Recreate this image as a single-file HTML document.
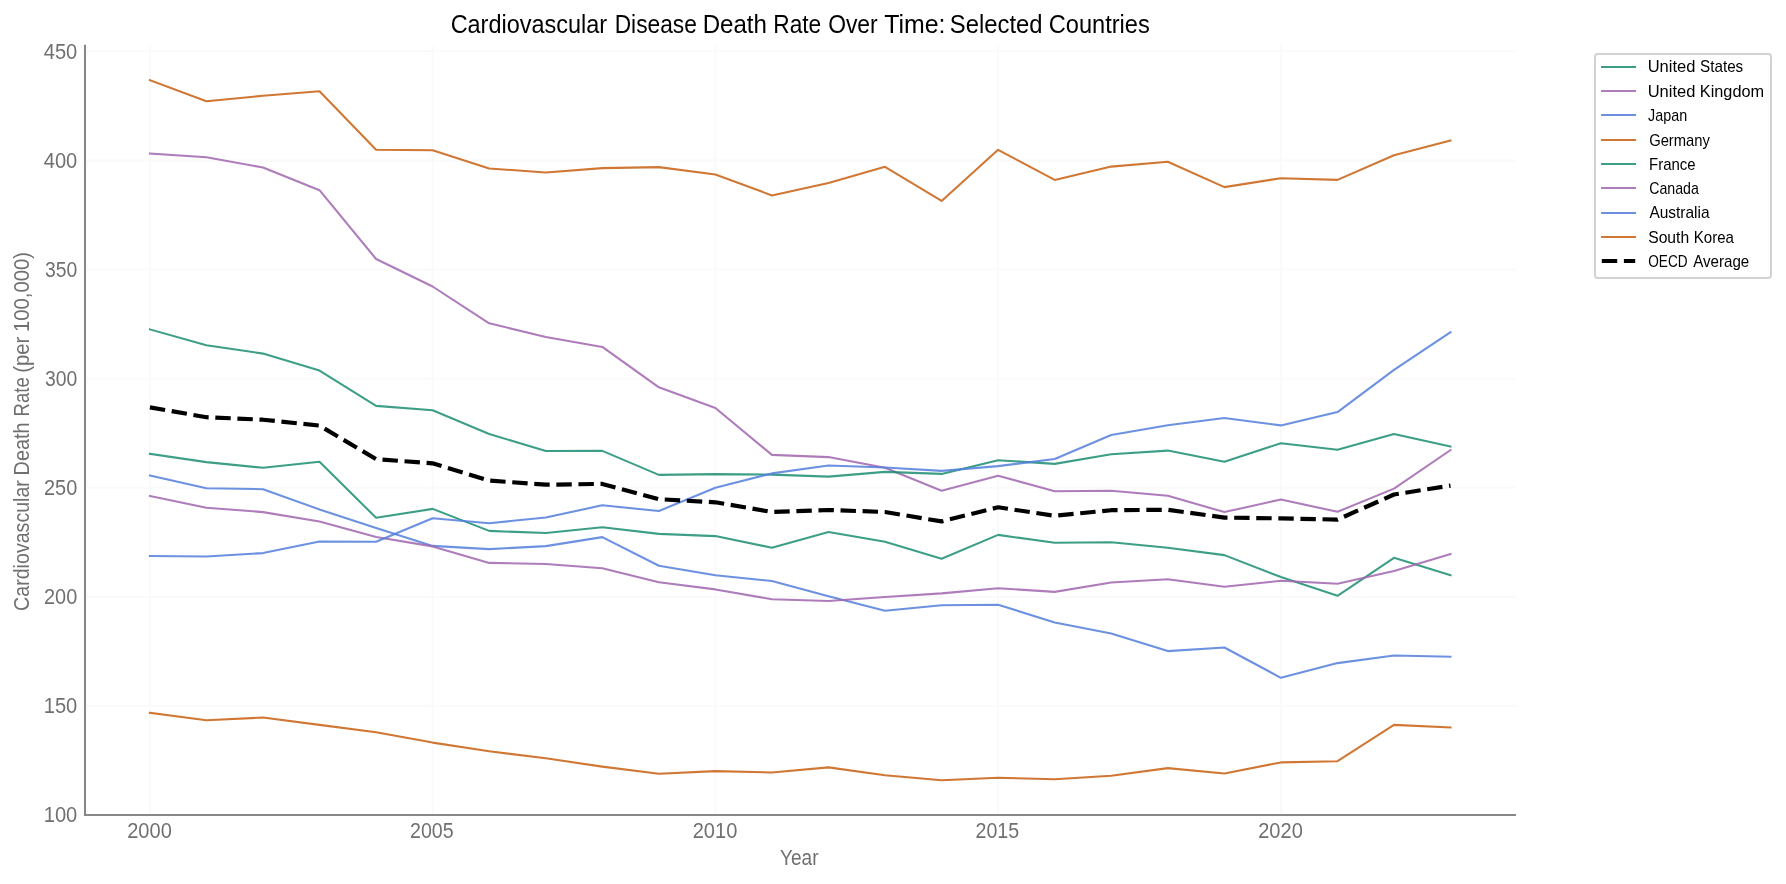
<!DOCTYPE html>
<html lang="en"><head><meta charset="utf-8">
<title>Cardiovascular Disease Death Rate Over Time: Selected Countries</title>
<style>
html,body{margin:0;padding:0;background:#ffffff;}
body{width:1786px;height:884px;overflow:hidden;}
svg{display:block;will-change:transform;}
text{font-family:"Liberation Sans",sans-serif;}
.tick{font-size:21.2px;fill:#707070;}
.title{font-size:25.0px;fill:#000000;}
.leg{font-size:16.6px;fill:#000000;}
.ln{fill:none;stroke-width:2.08;stroke-opacity:0.85;stroke-linejoin:round;stroke-linecap:square;}
</style></head><body>
<svg width="1786" height="884" viewBox="0 0 1786 884">
<rect x="0" y="0" width="1786" height="884" fill="#ffffff"/>
<g stroke="#fafafa" stroke-width="2" fill="none">
<line x1="149.9" y1="45.7" x2="149.9" y2="815"/>
<line x1="432.6" y1="45.7" x2="432.6" y2="815"/>
<line x1="715.4" y1="45.7" x2="715.4" y2="815"/>
<line x1="998.1" y1="45.7" x2="998.1" y2="815"/>
<line x1="1280.9" y1="45.7" x2="1280.9" y2="815"/>
<line x1="85" y1="815.3" x2="1515.5" y2="815.3"/>
<line x1="85" y1="706.1" x2="1515.5" y2="706.1"/>
<line x1="85" y1="597.0" x2="1515.5" y2="597.0"/>
<line x1="85" y1="487.8" x2="1515.5" y2="487.8"/>
<line x1="85" y1="378.7" x2="1515.5" y2="378.7"/>
<line x1="85" y1="269.5" x2="1515.5" y2="269.5"/>
<line x1="85" y1="160.4" x2="1515.5" y2="160.4"/>
<line x1="85" y1="51.2" x2="1515.5" y2="51.2"/>
</g>
<polyline class="ln" stroke="#1b8d72" points="149.9,453.9 206.4,462.1 263.0,467.8 319.5,461.7 376.1,517.8 432.6,508.9 489.2,530.9 545.8,533.0 602.3,527.2 658.9,533.9 715.4,536.1 771.9,547.7 828.5,531.9 885.0,541.8 941.6,558.7 998.1,534.9 1054.7,542.8 1111.2,542.3 1167.8,547.7 1224.4,555.1 1280.9,577.0 1337.5,595.8 1394.0,557.8 1450.5,575.1"/>
<polyline class="ln" stroke="#a065af" points="149.9,153.5 206.4,157.2 263.0,167.5 319.5,190.2 376.1,259.0 432.6,286.5 489.2,323.3 545.8,336.9 602.3,346.9 658.9,387.3 715.4,408.0 771.9,454.9 828.5,457.1 885.0,467.7 941.6,490.7 998.1,475.7 1054.7,491.3 1111.2,490.8 1167.8,495.7 1224.4,512.1 1280.9,499.5 1337.5,511.8 1394.0,488.6 1450.5,450.1"/>
<polyline class="ln" stroke="#527edb" points="149.9,475.4 206.4,488.2 263.0,489.2 319.5,509.4 376.1,527.9 432.6,545.9 489.2,549.1 545.8,546.1 602.3,537.1 658.9,565.7 715.4,575.3 771.9,581.0 828.5,596.3 885.0,610.8 941.6,605.2 998.1,604.7 1054.7,622.4 1111.2,633.5 1167.8,651.1 1224.4,647.5 1280.9,677.8 1337.5,663.1 1394.0,655.5 1450.5,656.7"/>
<polyline class="ln" stroke="#c85f11" points="149.9,80.2 206.4,101.2 263.0,95.8 319.5,91.3 376.1,149.8 432.6,150.3 489.2,168.5 545.8,172.5 602.3,168.1 658.9,167.1 715.4,174.5 771.9,195.4 828.5,182.9 885.0,166.8 941.6,200.9 998.1,149.8 1054.7,179.9 1111.2,166.6 1167.8,161.7 1224.4,187.1 1280.9,178.2 1337.5,179.9 1394.0,155.3 1450.5,140.6"/>
<polyline class="ln" stroke="#1b8d72" points="149.9,329.4 206.4,345.2 263.0,353.6 319.5,370.6 376.1,405.9 432.6,410.3 489.2,434.0 545.8,451.0 602.3,450.9 658.9,474.9 715.4,474.1 771.9,474.6 828.5,476.6 885.0,471.9 941.6,473.9 998.1,460.2 1054.7,463.9 1111.2,454.3 1167.8,450.6 1224.4,461.7 1280.9,443.2 1337.5,449.8 1394.0,434.1 1450.5,446.6"/>
<polyline class="ln" stroke="#a065af" points="149.9,495.9 206.4,507.7 263.0,512.1 319.5,521.5 376.1,537.0 432.6,546.4 489.2,562.9 545.8,564.0 602.3,568.2 658.9,582.2 715.4,589.4 771.9,599.2 828.5,601.0 885.0,597.0 941.6,593.4 998.1,588.2 1054.7,591.9 1111.2,582.5 1167.8,579.3 1224.4,586.7 1280.9,580.8 1337.5,583.7 1394.0,570.9 1450.5,554.1"/>
<polyline class="ln" stroke="#527edb" points="149.9,556.0 206.4,556.5 263.0,553.1 319.5,541.5 376.1,541.7 432.6,518.3 489.2,523.2 545.8,517.5 602.3,505.3 658.9,511.0 715.4,487.8 771.9,473.4 828.5,465.5 885.0,467.5 941.6,470.9 998.1,466.1 1054.7,459.0 1111.2,435.0 1167.8,425.2 1224.4,418.0 1280.9,425.4 1337.5,412.1 1394.0,369.9 1450.5,332.2"/>
<polyline class="ln" stroke="#c85f11" points="149.9,712.8 206.4,720.2 263.0,717.5 319.5,724.9 376.1,732.3 432.6,742.6 489.2,751.3 545.8,758.3 602.3,766.6 658.9,773.8 715.4,771.1 771.9,772.5 828.5,767.4 885.0,775.3 941.6,780.2 998.1,777.7 1054.7,779.2 1111.2,775.8 1167.8,768.1 1224.4,773.5 1280.9,762.4 1337.5,761.2 1394.0,724.9 1450.5,727.4"/>
<polyline fill="none" stroke="#000000" stroke-width="4.17" stroke-linejoin="round" stroke-linecap="butt" stroke-dasharray="15.42 6.67" points="149.9,407.4 206.4,417.2 263.0,419.7 319.5,425.6 376.1,459.1 432.6,463.3 489.2,480.6 545.8,484.7 602.3,483.9 658.9,499.2 715.4,502.3 771.9,512.0 828.5,510.0 885.0,512.0 941.6,521.4 998.1,507.3 1054.7,515.8 1111.2,510.2 1167.8,509.8 1224.4,517.6 1280.9,518.4 1337.5,519.6 1394.0,494.5 1450.5,485.6"/>
<g stroke="#888888" stroke-width="2.08" fill="none" stroke-linecap="square">
<line x1="85" y1="45.7" x2="85" y2="815"/>
<line x1="85" y1="815" x2="1515" y2="815"/>
</g>
<text class="tick" x="43.70" y="58.90" textLength="33.58" lengthAdjust="spacingAndGlyphs">450</text>
<text class="tick" x="43.70" y="167.90" textLength="33.58" lengthAdjust="spacingAndGlyphs">400</text>
<text class="tick" x="44.93" y="276.90" textLength="32.32" lengthAdjust="spacingAndGlyphs">350</text>
<text class="tick" x="44.93" y="385.90" textLength="32.32" lengthAdjust="spacingAndGlyphs">300</text>
<text class="tick" x="44.00" y="494.90" textLength="33.26" lengthAdjust="spacingAndGlyphs">250</text>
<text class="tick" x="44.00" y="603.90" textLength="33.26" lengthAdjust="spacingAndGlyphs">200</text>
<text class="tick" x="43.69" y="712.90" textLength="33.58" lengthAdjust="spacingAndGlyphs">150</text>
<text class="tick" x="43.69" y="821.90" textLength="33.58" lengthAdjust="spacingAndGlyphs">100</text>
<text class="tick" x="127.20" y="837.90" textLength="44.60" lengthAdjust="spacingAndGlyphs">2000</text>
<text class="tick" x="409.97" y="837.90" textLength="43.66" lengthAdjust="spacingAndGlyphs">2005</text>
<text class="tick" x="692.70" y="837.90" textLength="44.60" lengthAdjust="spacingAndGlyphs">2010</text>
<text class="tick" x="975.47" y="837.90" textLength="43.66" lengthAdjust="spacingAndGlyphs">2015</text>
<text class="tick" x="1258.20" y="837.90" textLength="44.60" lengthAdjust="spacingAndGlyphs">2020</text>
<text class="tick" x="780.02" y="864.50" textLength="38.47" lengthAdjust="spacingAndGlyphs">Year</text>
<g transform="translate(29.1,0) rotate(-90)">
<text class="tick" x="-610.88" y="0.00" textLength="130.77" lengthAdjust="spacingAndGlyphs">Cardiovascular</text>
<text class="tick" x="-475.38" y="0.00" textLength="52.84" lengthAdjust="spacingAndGlyphs">Death</text>
<text class="tick" x="-416.38" y="0.00" textLength="39.16" lengthAdjust="spacingAndGlyphs">Rate</text>
<text class="tick" x="-372.81" y="0.00" textLength="35.99" lengthAdjust="spacingAndGlyphs">(per</text>
<text class="tick" x="-332.12" y="0.00" textLength="80.20" lengthAdjust="spacingAndGlyphs">100,000)</text>
</g>
<text class="title" x="450.63" y="32.70" textLength="156.43" lengthAdjust="spacingAndGlyphs">Cardiovascular</text>
<text class="title" x="614.68" y="32.70" textLength="82.11" lengthAdjust="spacingAndGlyphs">Disease</text>
<text class="title" x="702.67" y="32.70" textLength="64.28" lengthAdjust="spacingAndGlyphs">Death</text>
<text class="title" x="773.28" y="32.70" textLength="47.99" lengthAdjust="spacingAndGlyphs">Rate</text>
<text class="title" x="828.17" y="32.70" textLength="49.52" lengthAdjust="spacingAndGlyphs">Over</text>
<text class="title" x="884.20" y="32.70" textLength="61.31" lengthAdjust="spacingAndGlyphs">Time:</text>
<text class="title" x="949.83" y="32.70" textLength="92.66" lengthAdjust="spacingAndGlyphs">Selected</text>
<text class="title" x="1048.72" y="32.70" textLength="101.00" lengthAdjust="spacingAndGlyphs">Countries</text>
<rect x="1595" y="54" width="176" height="224" rx="2.8" ry="2.8" fill="#ffffff" stroke="#d2d2d2" stroke-width="2"/>
<line class="ln" stroke="#1b8d72" x1="1602.1" y1="67" x2="1635.0" y2="67"/>
<text class="leg" x="1647.66" y="72.00" textLength="47.72" lengthAdjust="spacingAndGlyphs">United</text>
<text class="leg" x="1700.12" y="72.00" textLength="43.12" lengthAdjust="spacingAndGlyphs">States</text>
<line class="ln" stroke="#a065af" x1="1602.1" y1="91" x2="1635.0" y2="91"/>
<text class="leg" x="1647.66" y="97.00" textLength="47.72" lengthAdjust="spacingAndGlyphs">United</text>
<text class="leg" x="1699.80" y="97.00" textLength="64.31" lengthAdjust="spacingAndGlyphs">Kingdom</text>
<line class="ln" stroke="#527edb" x1="1602.1" y1="115" x2="1635.0" y2="115"/>
<text class="leg" x="1648.09" y="121.00" textLength="39.04" lengthAdjust="spacingAndGlyphs">Japan</text>
<line class="ln" stroke="#c85f11" x1="1602.1" y1="140" x2="1635.0" y2="140"/>
<text class="leg" x="1649.16" y="145.50" textLength="60.77" lengthAdjust="spacingAndGlyphs">Germany</text>
<line class="ln" stroke="#1b8d72" x1="1602.1" y1="164" x2="1635.0" y2="164"/>
<text class="leg" x="1649.00" y="170.00" textLength="46.61" lengthAdjust="spacingAndGlyphs">France</text>
<line class="ln" stroke="#a065af" x1="1602.1" y1="188" x2="1635.0" y2="188"/>
<text class="leg" x="1649.19" y="194.00" textLength="49.65" lengthAdjust="spacingAndGlyphs">Canada</text>
<line class="ln" stroke="#527edb" x1="1602.1" y1="213" x2="1635.0" y2="213"/>
<text class="leg" x="1649.40" y="218.00" textLength="60.21" lengthAdjust="spacingAndGlyphs">Australia</text>
<line class="ln" stroke="#c85f11" x1="1602.1" y1="237" x2="1635.0" y2="237"/>
<text class="leg" x="1648.19" y="243.00" textLength="40.98" lengthAdjust="spacingAndGlyphs">South</text>
<text class="leg" x="1693.69" y="243.00" textLength="40.26" lengthAdjust="spacingAndGlyphs">Korea</text>
<line stroke="#000000" stroke-width="4.17" stroke-dasharray="15.42 6.67" x1="1601.8" y1="261" x2="1635.2" y2="261"/>
<text class="leg" x="1648.29" y="267.00" textLength="39.28" lengthAdjust="spacingAndGlyphs">OECD</text>
<text class="leg" x="1693.20" y="267.00" textLength="56.11" lengthAdjust="spacingAndGlyphs">Average</text>
</svg>
</body></html>
